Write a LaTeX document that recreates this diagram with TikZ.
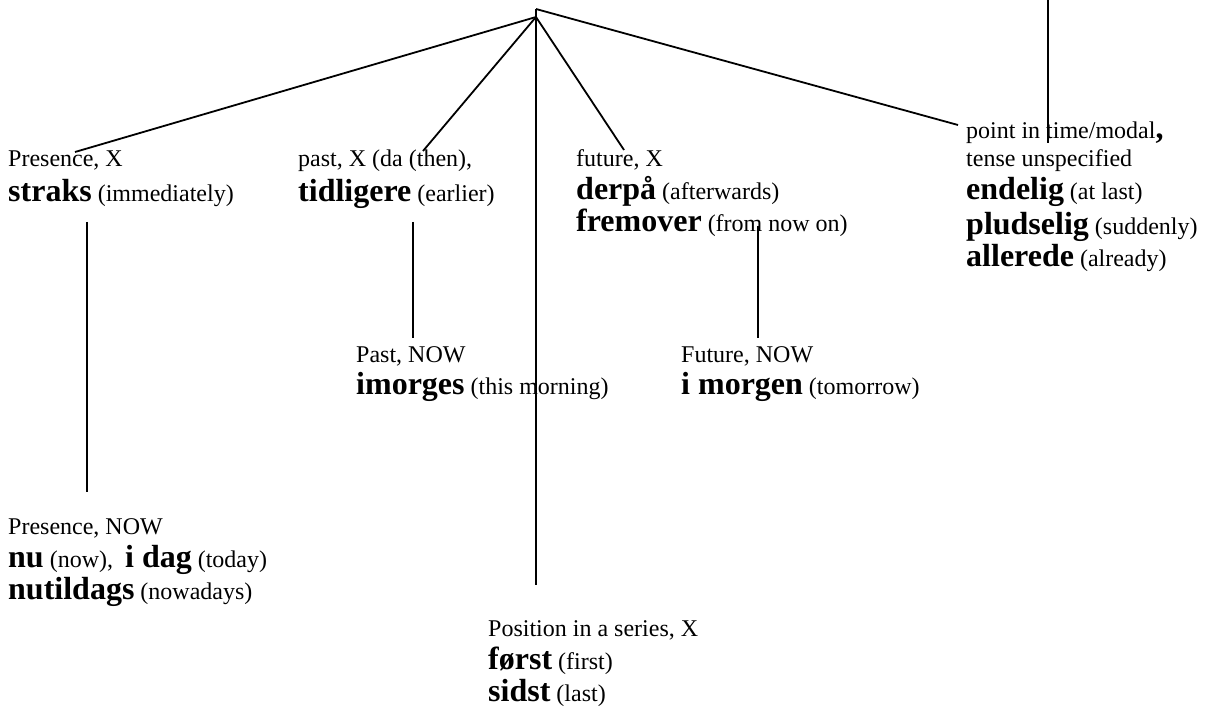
\documentclass[tikz,border=0pt]{standalone}
\usepackage{fontspec}
\setmainfont{Liberation Serif}
\usepackage{tikz}
\usetikzlibrary{positioning}
\tikzset{
  line/.style={line width=1.8pt, line cap=butt},
  txt/.style={anchor=base west, inner sep=0pt, font=\fontsize{24}{28}\selectfont},
}
\newcommand{\dword}[1]{{\fontsize{32}{34}\selectfont\bfseries #1}}

\begin{document}
\begin{tikzpicture}[x=1pt, y=-1pt]
    \useasboundingbox (0,0) rectangle (1207,714);

    % top of the tree
    \coordinate (top) at (536,9);
    \coordinate (apex) at (536,17);

    % Presence, X
    \node[txt] (presX) at (8,167) {Presence, X};
    \node[txt] (straks) at ([yshift=-34pt]presX.base west) {\dword{straks} (immediately)};

    % past, X
    \node[txt] (pastX) at (298,167) {past, X (da (then),};
    \node[txt] (tidl) at ([yshift=-34pt]pastX.base west) {\dword{tidligere} (earlier)};

    % future, X
    \node[txt] (futX) at (576,167) {future, X};
    \node[txt] (derpa) at ([yshift=-33pt]futX.base west) {\dword{derpå} (afterwards)};
    \node[txt] (fremov) at ([yshift=-32pt]derpa.base west) {\dword{fremover} (from now on)};

    % point in time
    \node[txt] (point) at (966,139) {point in time/modal\dword{,}};
    \node[txt] (tense) at ([yshift=-28pt]point.base west) {tense unspecified};
    \node[txt] (endel) at ([yshift=-33pt]tense.base west) {\dword{endelig} (at last)};
    \node[txt] (plud) at ([yshift=-34pt]endel.base west) {\dword{pludselig} (suddenly)};
    \node[txt] (aller) at ([yshift=-32pt]plud.base west) {\dword{allerede} (already)};

    % Past, NOW
    \node[txt] (pastN) at (356,362) {Past, NOW};
    \node[txt] (imorg) at ([yshift=-32pt]pastN.base west) {\dword{imorges} (this morning)};

    % Future, NOW
    \node[txt] (futN) at (681,362) {Future, NOW};
    \node[txt] (imorgen) at ([yshift=-32pt]futN.base west) {\dword{i morgen} (tomorrow)};

    % Presence, NOW
    \node[txt] (presN) at (8,534) {Presence, NOW};
    \node[txt] (nu) at ([yshift=-33pt]presN.base west) {\dword{nu} (now),~ \dword{i dag} (today)};
    \node[txt] (nutil) at ([yshift=-32pt]nu.base west) {\dword{nutildags} (nowadays)};

    % Position in a series
    \node[txt] (posX) at (488,636) {Position in a series, X};
    \node[txt] (forst) at ([yshift=-33pt]posX.base west) {\dword{først} (first)};
    \node[txt] (sidst) at ([yshift=-32pt]forst.base west) {\dword{sidst} (last)};

    % free ends of the connectors
    \coordinate (eA) at (75,152);
    \coordinate (eB) at (423,151);
    \coordinate (eC) at (536,585);
    \coordinate (eD) at (624,150);
    \coordinate (eE) at (958,125);
    \coordinate (rTop) at (1048,0);
    \coordinate (rBot) at (1048,143);
    \coordinate (s1) at (87,222);
    \coordinate (s2) at (87,492);
    \coordinate (t1) at (413,222);
    \coordinate (t2) at (413,338);
    \coordinate (f1) at (758,226);
    \coordinate (f2) at (758,338);

    \draw[line] (apex) -- (eA);
    \draw[line] (apex) -- (eB);
    \draw[line] (top) -- (eC);
    \draw[line] (apex) -- (eD);
    \draw[line] (top) -- (eE);
    \draw[line] (rTop) -- (rBot);
    \draw[line] (s1) -- (s2);
    \draw[line] (t1) -- (t2);
    \draw[line] (f1) -- (f2);
\end{tikzpicture}
\end{document}
